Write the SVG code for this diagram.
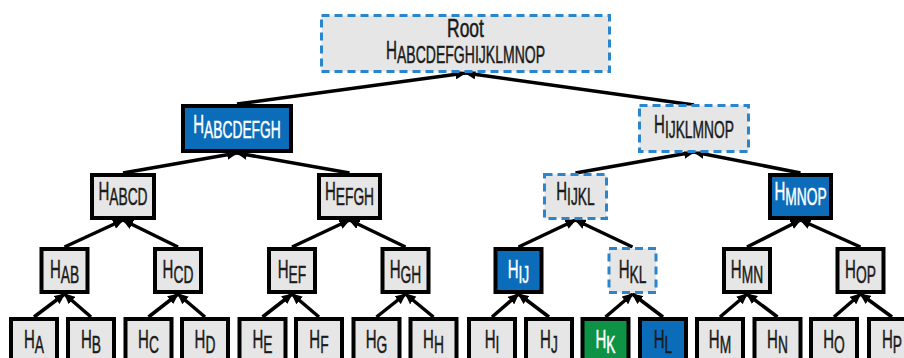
<svg xmlns="http://www.w3.org/2000/svg" width="904" height="358" viewBox="0 0 904 358">
<defs>
<marker id="ah" markerUnits="userSpaceOnUse" markerWidth="12" markerHeight="10" refX="10" refY="5" orient="auto">
<path d="M0,0 L11,5 L0,10 z" fill="#000"/>
</marker>
<style>
.box{fill:#e6e6e6;stroke:#000;stroke-width:4}
.blue{fill:#0b6dba}
.green{fill:#0e9346}
.dash{fill:#e6e6e6;stroke:#2a85cc;stroke-width:3;stroke-dasharray:8 5}
.lbl{font-family:"Liberation Sans",Arial,sans-serif;font-size:25px;fill:#1a1a1a;stroke:#1a1a1a;stroke-width:0.5;text-anchor:middle}
.s{font-size:23px}
.w{fill:#fff;stroke:#fff}
.edge{stroke:#000;stroke-width:3.5;fill:none;marker-end:url(#ah)}
</style>
</defs>
<rect width="904" height="358" fill="#fff"/>
<g id="connectors">
<line class="edge" x1="237" y1="104" x2="465.5" y2="73"/>
<line class="edge" x1="694" y1="105" x2="465.5" y2="73"/>
<line class="edge" x1="123" y1="173" x2="237" y2="153"/>
<line class="edge" x1="349.5" y1="173" x2="237" y2="153"/>
<line class="edge" x1="575.5" y1="173" x2="694" y2="152"/>
<line class="edge" x1="800.5" y1="173" x2="694" y2="152"/>
<line class="edge" x1="64.5" y1="247" x2="123" y2="220"/>
<line class="edge" x1="178" y1="247" x2="123" y2="220"/>
<line class="edge" x1="292" y1="247" x2="349.5" y2="220"/>
<line class="edge" x1="405.5" y1="247" x2="349.5" y2="220"/>
<line class="edge" x1="518.5" y1="247" x2="575.5" y2="220"/>
<line class="edge" x1="632.5" y1="247" x2="575.5" y2="220"/>
<line class="edge" x1="747" y1="247" x2="800.5" y2="220"/>
<line class="edge" x1="860.5" y1="247" x2="800.5" y2="220"/>
<line class="edge" x1="34" y1="317" x2="64.5" y2="294"/>
<line class="edge" x1="91" y1="317" x2="64.5" y2="294"/>
<line class="edge" x1="148.5" y1="317" x2="178" y2="294"/>
<line class="edge" x1="205" y1="317" x2="178" y2="294"/>
<line class="edge" x1="262.5" y1="317" x2="292" y2="294"/>
<line class="edge" x1="319" y1="317" x2="292" y2="294"/>
<line class="edge" x1="376.5" y1="317" x2="405.5" y2="294"/>
<line class="edge" x1="433.5" y1="317" x2="405.5" y2="294"/>
<line class="edge" x1="492" y1="317" x2="518.5" y2="294"/>
<line class="edge" x1="549" y1="317" x2="518.5" y2="294"/>
<line class="edge" x1="605.5" y1="317" x2="632.5" y2="294"/>
<line class="edge" x1="663" y1="317" x2="632.5" y2="294"/>
<line class="edge" x1="720" y1="317" x2="747" y2="294"/>
<line class="edge" x1="777.5" y1="317" x2="747" y2="294"/>
<line class="edge" x1="834" y1="317" x2="860.5" y2="294"/>
<line class="edge" x1="892" y1="317" x2="860.5" y2="294"/>
</g>
<g id="root">
<rect class="dash" x="321.5" y="15.5" width="288" height="56"/>
<text class="lbl" x="465.5" y="37" font-size="22" transform="matrix(0.7 0 0 1 139.65 0)">Root</text>
<text class="lbl" x="465.5" y="59" transform="matrix(0.61 0 0 1 181.545 0)">H<tspan class="s" dy="4">ABCDEFGHIJKLMNOP</tspan></text>
</g>
<g id="h-abcdefgh">
<rect class="box blue" x="183" y="106" width="108" height="45"/>
<text class="lbl w" x="237" y="133" transform="matrix(0.6 0 0 1 94.8 0)">H<tspan class="s" dy="5">ABCDEFGH</tspan></text>
</g>
<g id="h-ijklmnop">
<rect class="dash" x="639.5" y="105.5" width="109" height="46"/>
<text class="lbl" x="694" y="133" transform="matrix(0.6 0 0 1 277.6 0)">H<tspan class="s" dy="5">IJKLMNOP</tspan></text>
</g>
<g id="h-abcd">
<rect class="box" x="92" y="175" width="62" height="43"/>
<text class="lbl" x="123" y="200" transform="matrix(0.6 0 0 1 49.2 0)">H<tspan class="s" dy="5">ABCD</tspan></text>
</g>
<g id="h-efgh">
<rect class="box" x="319" y="175" width="61" height="43"/>
<text class="lbl" x="349.5" y="200" transform="matrix(0.6 0 0 1 139.8 0)">H<tspan class="s" dy="5">EFGH</tspan></text>
</g>
<g id="h-ijkl">
<rect class="dash" x="544.5" y="174.5" width="62" height="44"/>
<text class="lbl" x="575.5" y="200" transform="matrix(0.6 0 0 1 230.2 0)">H<tspan class="s" dy="5">IJKL</tspan></text>
</g>
<g id="h-mnop">
<rect class="box blue" x="770" y="175" width="61" height="43"/>
<text class="lbl w" x="800.5" y="200" transform="matrix(0.6 0 0 1 320.2 0)">H<tspan class="s" dy="5">MNOP</tspan></text>
</g>
<g id="h-ab">
<rect class="box" x="41.5" y="249" width="46" height="43"/>
<text class="lbl" x="64.5" y="278" transform="matrix(0.6 0 0 1 25.8 0)">H<tspan class="s" dy="5">AB</tspan></text>
</g>
<g id="h-cd">
<rect class="box" x="155" y="249" width="46" height="43"/>
<text class="lbl" x="178" y="278" transform="matrix(0.6 0 0 1 71.2 0)">H<tspan class="s" dy="5">CD</tspan></text>
</g>
<g id="h-ef">
<rect class="box" x="269" y="249" width="46" height="43"/>
<text class="lbl" x="292" y="278" transform="matrix(0.6 0 0 1 116.8 0)">H<tspan class="s" dy="5">EF</tspan></text>
</g>
<g id="h-gh">
<rect class="box" x="382.5" y="249" width="46" height="43"/>
<text class="lbl" x="405.5" y="278" transform="matrix(0.6 0 0 1 162.2 0)">H<tspan class="s" dy="5">GH</tspan></text>
</g>
<g id="h-ij">
<rect class="box blue" x="495.5" y="249" width="46" height="43"/>
<text class="lbl w" x="518.5" y="278" transform="matrix(0.6 0 0 1 207.4 0)">H<tspan class="s" dy="5">IJ</tspan></text>
</g>
<g id="h-kl">
<rect class="dash" x="609" y="248.5" width="47" height="44"/>
<text class="lbl" x="632.5" y="278" transform="matrix(0.6 0 0 1 253 0)">H<tspan class="s" dy="5">KL</tspan></text>
</g>
<g id="h-mn">
<rect class="box" x="724" y="249" width="46" height="43"/>
<text class="lbl" x="747" y="278" transform="matrix(0.6 0 0 1 298.8 0)">H<tspan class="s" dy="5">MN</tspan></text>
</g>
<g id="h-op">
<rect class="box" x="837.5" y="249" width="46" height="43"/>
<text class="lbl" x="860.5" y="278" transform="matrix(0.6 0 0 1 344.2 0)">H<tspan class="s" dy="5">OP</tspan></text>
</g>
<g id="h-a"><rect class="box" x="11" y="319" width="46" height="50"/><text class="lbl" x="34" y="348" transform="matrix(0.6 0 0 1 13.6 0)">H<tspan class="s" dy="5">A</tspan></text></g>
<g id="h-b"><rect class="box" x="68" y="319" width="46" height="50"/><text class="lbl" x="91" y="348" transform="matrix(0.6 0 0 1 36.4 0)">H<tspan class="s" dy="5">B</tspan></text></g>
<g id="h-c"><rect class="box" x="125.5" y="319" width="46" height="50"/><text class="lbl" x="148.5" y="348" transform="matrix(0.6 0 0 1 59.4 0)">H<tspan class="s" dy="5">C</tspan></text></g>
<g id="h-d"><rect class="box" x="182" y="319" width="46" height="50"/><text class="lbl" x="205" y="348" transform="matrix(0.6 0 0 1 82 0)">H<tspan class="s" dy="5">D</tspan></text></g>
<g id="h-e"><rect class="box" x="239.5" y="319" width="46" height="50"/><text class="lbl" x="262.5" y="348" transform="matrix(0.6 0 0 1 105 0)">H<tspan class="s" dy="5">E</tspan></text></g>
<g id="h-f"><rect class="box" x="296" y="319" width="46" height="50"/><text class="lbl" x="319" y="348" transform="matrix(0.6 0 0 1 127.6 0)">H<tspan class="s" dy="5">F</tspan></text></g>
<g id="h-g"><rect class="box" x="353.5" y="319" width="46" height="50"/><text class="lbl" x="376.5" y="348" transform="matrix(0.6 0 0 1 150.6 0)">H<tspan class="s" dy="5">G</tspan></text></g>
<g id="h-h"><rect class="box" x="410.5" y="319" width="46" height="50"/><text class="lbl" x="433.5" y="348" transform="matrix(0.6 0 0 1 173.4 0)">H<tspan class="s" dy="5">H</tspan></text></g>
<g id="h-i"><rect class="box" x="469" y="319" width="46" height="50"/><text class="lbl" x="492" y="348" transform="matrix(0.6 0 0 1 196.8 0)">H<tspan class="s" dy="5">I</tspan></text></g>
<g id="h-j"><rect class="box" x="526" y="319" width="46" height="50"/><text class="lbl" x="549" y="348" transform="matrix(0.6 0 0 1 219.6 0)">H<tspan class="s" dy="5">J</tspan></text></g>
<g id="h-k"><rect class="box green" x="582.5" y="319" width="46" height="50"/><text class="lbl w" x="605.5" y="348" transform="matrix(0.6 0 0 1 242.2 0)">H<tspan class="s" dy="5">K</tspan></text></g>
<g id="h-l"><rect class="box blue" x="640" y="319" width="46" height="50"/><text class="lbl" x="663" y="348" transform="matrix(0.6 0 0 1 265.2 0)">H<tspan class="s" dy="5">L</tspan></text></g>
<g id="h-m"><rect class="box" x="697" y="319" width="46" height="50"/><text class="lbl" x="720" y="348" transform="matrix(0.6 0 0 1 288 0)">H<tspan class="s" dy="5">M</tspan></text></g>
<g id="h-n"><rect class="box" x="754.5" y="319" width="46" height="50"/><text class="lbl" x="777.5" y="348" transform="matrix(0.6 0 0 1 311 0)">H<tspan class="s" dy="5">N</tspan></text></g>
<g id="h-o"><rect class="box" x="811" y="319" width="46" height="50"/><text class="lbl" x="834" y="348" transform="matrix(0.6 0 0 1 333.6 0)">H<tspan class="s" dy="5">O</tspan></text></g>
<g id="h-p"><rect class="box" x="869" y="319" width="46" height="50"/><text class="lbl" x="892" y="348" transform="matrix(0.6 0 0 1 356.8 0)">H<tspan class="s" dy="5">P</tspan></text></g>
</svg>
